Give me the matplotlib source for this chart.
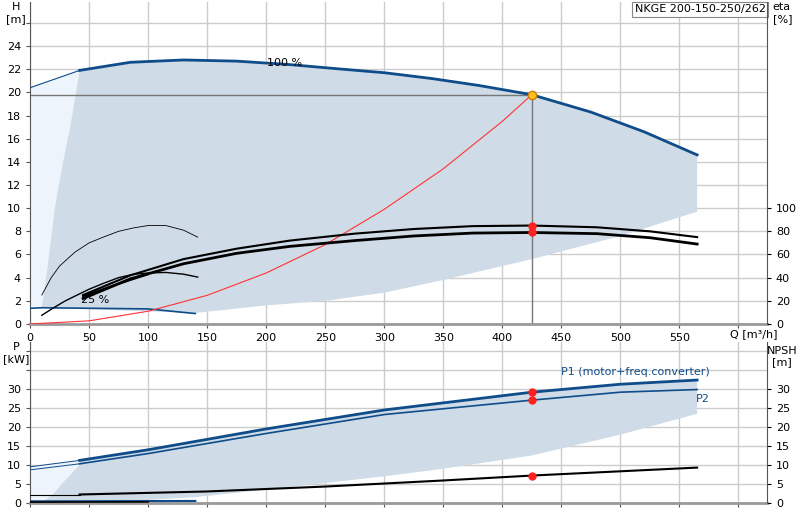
import matplotlib.pyplot as plt
import numpy as np

# --- data ---
q_h100 = [42, 85, 130, 175, 220, 265, 300, 340, 380, 425, 475, 520, 565]
h_h100 = [21.9, 22.6, 22.8, 22.7, 22.4, 22.0, 21.7, 21.2, 20.6, 19.8, 18.3, 16.6, 14.6]
q_h_ext = [0, 42]
h_h_ext = [20.4, 21.9]

q_low = [565, 500, 425, 350, 300, 250, 200, 140]
h_low = [9.7, 7.6, 5.6, 3.8, 2.7, 2.0, 1.6, 0.95]
q_left = [10, 15, 21, 28, 34, 39, 42]
h_left = [1.4, 5.0, 10.0, 14.0, 17.0, 20.0, 21.9]

q_min = [0, 10, 100, 140]
h_min = [1.35, 1.4, 1.3, 0.9]

q_sys = [0, 50, 100, 150, 200, 250, 300, 350, 400, 425]
h_sys = [0, 0.27, 1.1, 2.47, 4.4, 6.85, 9.9, 13.4, 17.5, 19.8]

q_eta = [45, 85, 130, 175, 220, 275, 325, 375, 425, 480, 525, 565]
eta_p1 = [25, 42, 56, 65, 72, 78, 82, 84.5, 85, 83.5, 80, 75]
eta_p2 = [22, 39, 52, 61, 67, 72, 76, 78.5, 79, 78, 74.5, 69]
q_eta25a = [10, 18, 25, 38, 50, 62, 75, 88, 100, 115, 130, 142]
eta25a = [25, 40, 50, 62, 70, 75, 80, 83, 85, 85, 81, 75]
q_eta25b = [10, 20, 30, 40, 50, 62, 75, 88, 100, 115, 130, 142]
eta25b = [7.5, 14, 20, 25, 30, 35, 40, 43, 44, 44.5, 43, 40.5]
q_eta25c = [45, 70, 100]
eta25c = [24, 33, 43]

q_p = [42, 100, 200, 300, 425, 500, 565]
p1 = [11.2, 14.0, 19.5, 24.5, 29.2, 31.3, 32.4]
p2 = [10.3, 13.0, 18.3, 23.3, 27.1, 29.2, 29.9]
q_p_ext = [0, 42]
p1_ext = [9.5, 11.2]
p2_ext = [8.7, 10.3]
q_p_low = [565, 500, 425, 350, 300, 200, 140, 80, 42]
p_low = [23.5, 18.0, 12.5, 9.0, 7.0, 3.5, 1.5, 0.4, 0.0]
q_p_left = [10, 20, 30, 42]
p_p_left = [0, 2.5, 6.0, 10.0]

q_npsh = [42, 150, 250, 350, 425, 565]
npsh = [2.2, 3.0, 4.3, 5.9, 7.2, 9.3]

q_duty = 425
h_duty = 19.8

SHADE = '#cfdbe6'
LIGHT = '#edf4fb'
BLUE = '#0f4c8a'
GRID = '#cccccc'

plt.rcParams['font.family'] = 'DejaVu Sans'
plt.rcParams['font.size'] = 8

fig = plt.figure(figsize=(8, 5.2), dpi=100)
ax = fig.add_axes([0.0375, 0.377, 0.921, 0.619])
axb = fig.add_axes([0.0375, 0.033, 0.921, 0.309])

XMAX = 624

def style(a, ymax, step):
    a.set_xlim(0, XMAX)
    a.set_ylim(0, ymax)
    a.set_xticks(np.arange(0, 601, 50))
    a.set_yticks(np.arange(0, ymax, step))
    a.grid(True, color=GRID, linewidth=1)
    a.set_axisbelow(True)
    for s in ['top', 'right']:
        a.spines[s].set_visible(False)
    a.spines['left'].set_color('#555555')
    a.spines['bottom'].set_color('#999999')
    a.spines['bottom'].set_linewidth(2)
    a.tick_params(length=3, color='#555555', labelsize=8)

# ---- top chart ----
style(ax, 27.8, 2)
ax.set_yticklabels([str(int(v)) if v <= 24 else '' for v in np.arange(0, 27.8, 2)])
ax.set_xticklabels([str(v) for v in range(0, 601, 50)][:12] + [''])

light_x = [0] + q_h_ext + q_left[::-1] + [10, 0]
light_y = [1.3] + h_h_ext + h_left[::-1] + [1.4, 1.3]
ax.fill(light_x, light_y, color=LIGHT, zorder=1, lw=0)
sx = q_left + q_h100 + q_low
sy = h_left + h_h100 + h_low
ax.fill(sx, sy, color=SHADE, zorder=1, lw=0)

ax.plot(q_h100, h_h100, color=BLUE, lw=2, zorder=3)
ax.plot(q_h_ext, h_h_ext, color=BLUE, lw=0.8, zorder=3)
ax.plot(q_min, h_min, color=BLUE, lw=1.2, zorder=3)
ax.plot([0, q_duty], [h_duty, h_duty], color='#777777', lw=1, zorder=2)
ax.plot([q_duty, q_duty], [0, h_duty], color='#777777', lw=1, zorder=2)
ax.plot(q_sys, h_sys, color='#ff3333', lw=0.8, zorder=3)

sc = 0.1  # eta -> H units
ax.plot(q_eta, np.array(eta_p1) * sc, color='black', lw=1.5, zorder=3)
ax.plot(q_eta, np.array(eta_p2) * sc, color='black', lw=2, zorder=3)
ax.plot(q_eta25a, np.array(eta25a) * sc, color='black', lw=0.6, zorder=3)
ax.plot(q_eta25b, np.array(eta25b) * sc, color='black', lw=1, zorder=3)
ax.plot(q_eta25c, np.array(eta25c) * sc, color='black', lw=1.5, zorder=3)
ax.plot([q_duty, q_duty], [eta_p1[8] * sc, eta_p2[8] * sc], 'o', color='#ff2020',
        ms=5, zorder=4)
ax.plot([q_duty], [h_duty], 'o', color='#ffc020', mec='#d08000', ms=6, zorder=5)

ax.text(216, 22.5, '100 %', ha='center', va='center', fontsize=8, zorder=4)
ax.text(55, 2.1, '25 %', ha='center', va='center', fontsize=8, zorder=4)
ax.text(-12, 27.8, 'H\n[m]', ha='center', va='top', fontsize=8)
ax.text(593, -0.9, 'Q [m³/h]', ha='left', va='center', fontsize=8)

axr = ax.twinx()
axr.set_ylim(0, 278)
axr.set_yticks(np.arange(0, 101, 20))
for s in ['top', 'left', 'bottom']:
    axr.spines[s].set_visible(False)
axr.spines['right'].set_color('#555555')
axr.tick_params(length=3, labelsize=8)
ax.text(XMAX + 5, 27.8, 'eta\n[%]', ha='left', va='top', fontsize=8)
ax.text(XMAX - 1, 27.6, 'NKGE 200-150-250/262', ha='right', va='top', fontsize=8,
        bbox=dict(boxstyle='square,pad=0.25', fc='white', ec='#888888', lw=0.8))

# ---- bottom chart ----
style(axb, 42.4, 5)
axb.set_xticklabels([])
axb.set_yticklabels([str(v) if v <= 30 else '' for v in range(0, 41, 5)])
axb.fill([0] + q_p_ext + [42, 30, 20, 10, 0], [0] + p1_ext + [10, 6, 2.5, 0, 0],
         color=LIGHT, lw=0, zorder=1)
axb.fill(q_p_left + q_p + q_p_low, p_p_left + p1 + p_low, color=SHADE, lw=0, zorder=1)
axb.plot(q_p, p1, color=BLUE, lw=2, zorder=3)
axb.plot(q_p, p2, color=BLUE, lw=1.2, zorder=3)
axb.plot(q_p_ext, p1_ext, color=BLUE, lw=0.7, zorder=3)
axb.plot(q_p_ext, p2_ext, color=BLUE, lw=0.7, zorder=3)
axb.plot(q_npsh, npsh, color='black', lw=1.5, zorder=3)
axb.plot([0, 42], [2.2, 2.2], color='black', lw=0.8, zorder=3)
axb.plot([0, 140], [0.4, 0.5], color=BLUE, lw=1.5, zorder=3)
axb.plot([0, 100], [0.2, 0.25], color='black', lw=1.2, zorder=3)
axb.plot([q_duty] * 3, [p1[4], p2[4], npsh[4]], 'o', color='#ff2020', ms=5, zorder=4)
axb.text(513, 34.5, 'P1 (motor+freq.converter)', color=BLUE, ha='center',
         va='center', fontsize=8)
axb.text(570, 27.4, 'P2', color=BLUE, ha='center', va='center', fontsize=8)
axb.text(-12, 42.4, 'P\n[kW]', ha='center', va='top', fontsize=8)
fig.text(0.997, 0.335, 'NPSH\n[m]', ha='right', va='top', fontsize=8,
         multialignment='center')

axbr = axb.twinx()
axbr.set_ylim(0, 42.4)
axbr.set_yticks(np.arange(0, 31, 5))
for s in ['top', 'left', 'bottom']:
    axbr.spines[s].set_visible(False)
axbr.spines['right'].set_color('#555555')
axbr.tick_params(length=3, labelsize=8)

fig.savefig('out.png', dpi=100)
